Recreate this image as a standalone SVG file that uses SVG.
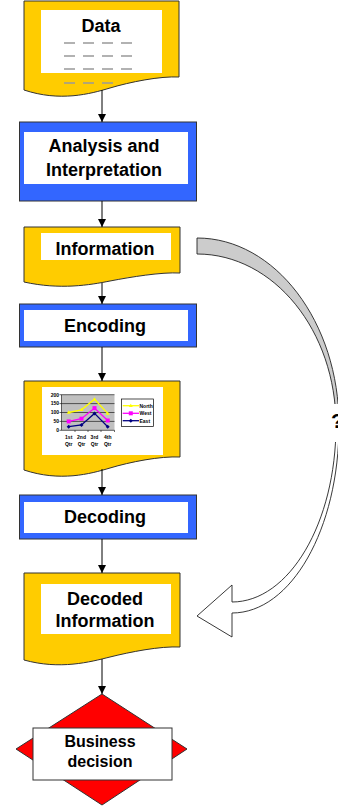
<svg xmlns="http://www.w3.org/2000/svg" width="338" height="807" viewBox="0 0 338 807">
<defs>
<style>
.doc{fill:#FFCC00;stroke:#333;stroke-width:1}
.proc{fill:#3366FF;stroke:#333;stroke-width:1}
.inner{fill:#fff;stroke:none}
.t{font-family:"Liberation Sans",Arial,sans-serif;font-weight:bold;font-size:18px;fill:#000;text-anchor:middle}
.ts{font-family:"Liberation Sans",Arial,sans-serif;font-weight:bold;font-size:5px;fill:#000}
.dash{stroke:#999;stroke-width:1.3;stroke-dasharray:11 8}
.conn{stroke:#000;stroke-width:1;fill:none}
.grid{stroke:#000;stroke-width:0.6}
</style>
<marker id="ah" viewBox="0 0 10 10" refX="10" refY="5" markerWidth="8" markerHeight="8" orient="auto" markerUnits="userSpaceOnUse"><path d="M0,0 L10,5 L0,10 Z" fill="#000"/></marker>
</defs>
<rect width="338" height="807" fill="#fff"/>

<g id="data">
<path class="doc" d="M24,1 H179 V77 C160,76 130,82 110,88 C90,94 60,102 24,90 Z"/>
<rect class="inner" x="41" y="10" width="121" height="63"/>
<text class="t" x="101" y="32">Data</text>
<line class="dash" x1="64" y1="43" x2="132" y2="43"/>
<line class="dash" x1="64" y1="56" x2="132" y2="56"/>
<line class="dash" x1="64" y1="69" x2="132" y2="69"/>
<line class="dash" x1="64" y1="83" x2="114" y2="83"/>
</g>

<g id="analysis">
<rect class="proc" x="19.5" y="122" width="177" height="79"/>
<rect class="inner" x="24" y="132" width="164" height="52"/>
<text class="t" x="104" y="152">Analysis and</text>
<text class="t" x="104" y="176">Interpretation</text>
</g>

<g id="information">
<path class="doc" d="M24,227 H180 V273 C161,272 131,277 110,281 C90,285 60,290 24,282 Z"/>
<rect class="inner" x="41" y="233" width="130" height="27"/>
<text class="t" x="105" y="255">Information</text>
</g>

<g id="encoding">
<rect class="proc" x="19.5" y="304" width="177" height="43"/>
<rect class="inner" x="24" y="310" width="164" height="31"/>
<text class="t" x="105" y="332">Encoding</text>
</g>

<g id="chart">
<path class="doc" d="M24,381 H180 V457 C160,456 130,462 110,468 C90,474 60,482 24,470 Z"/>
<rect class="inner" x="42" y="387" width="121" height="68"/>
<rect x="61.5" y="394.7" width="53" height="35.6" fill="#C0C0C0"/>
<line class="grid" x1="61.5" y1="394.7" x2="114.5" y2="394.7"/>
<line class="grid" x1="61.5" y1="403.6" x2="114.5" y2="403.6"/>
<line class="grid" x1="61.5" y1="412.5" x2="114.5" y2="412.5"/>
<line class="grid" x1="61.5" y1="421.4" x2="114.5" y2="421.4"/>
<line class="grid" x1="61.5" y1="394.7" x2="61.5" y2="430.3"/>
<line class="grid" x1="61.5" y1="430.3" x2="114.5" y2="430.3"/>
<g class="grid">
<line x1="59.5" y1="394.7" x2="61.5" y2="394.7"/><line x1="59.5" y1="403.6" x2="61.5" y2="403.6"/><line x1="59.5" y1="412.5" x2="61.5" y2="412.5"/><line x1="59.5" y1="421.4" x2="61.5" y2="421.4"/><line x1="59.5" y1="430.3" x2="61.5" y2="430.3"/>
<line x1="75" y1="430.3" x2="75" y2="432"/><line x1="88" y1="430.3" x2="88" y2="432"/><line x1="101" y1="430.3" x2="101" y2="432"/><line x1="114.5" y1="430.3" x2="114.5" y2="432"/>
</g>
<g class="ts" text-anchor="end">
<text x="59" y="396.5">200</text><text x="59" y="405.4">150</text><text x="59" y="414.3">100</text><text x="59" y="423.2">50</text><text x="59" y="432.1">0</text>
</g>
<g class="ts" text-anchor="middle">
<text x="68.7" y="439">1st</text><text x="68.7" y="446">Qtr</text>
<text x="81.5" y="439">2nd</text><text x="81.5" y="446">Qtr</text>
<text x="94.5" y="439">3rd</text><text x="94.5" y="446">Qtr</text>
<text x="107.7" y="439">4th</text><text x="107.7" y="446">Qtr</text>
</g>
<polyline points="68.7,412.5 81.5,409.8 94.5,399.2 107.7,413.4" fill="none" stroke="#FFFF00" stroke-width="1.3"/>
<g fill="#FFFF00"><path d="M68.7,410.5 l2,3.3 h-4z"/><path d="M81.5,407.8 l2,3.3 h-4z"/><path d="M94.5,397.2 l2,3.3 h-4z"/><path d="M107.7,411.4 l2,3.3 h-4z"/></g>
<polyline points="68.7,421.4 81.5,418.7 94.5,408.1 107.7,420.5" fill="none" stroke="#FF00FF" stroke-width="1.3"/>
<g fill="#FF00FF"><rect x="66.7" y="419.4" width="4" height="4"/><rect x="79.5" y="416.7" width="4" height="4"/><rect x="92.5" y="406.1" width="4" height="4"/><rect x="105.7" y="418.5" width="4" height="4"/></g>
<polyline points="68.7,426.7 81.5,425 94.5,413.4 107.7,426.7" fill="none" stroke="#000080" stroke-width="1.3"/>
<g fill="#000080"><path d="M68.7,424.7 l2,2 l-2,2 l-2,-2z"/><path d="M81.5,423 l2,2 l-2,2 l-2,-2z"/><path d="M94.5,411.4 l2,2 l-2,2 l-2,-2z"/><path d="M107.7,424.7 l2,2 l-2,2 l-2,-2z"/></g>
<rect x="121.5" y="399" width="32" height="27.5" fill="#fff" stroke="#000" stroke-width="0.7"/>
<line x1="122.7" y1="405.7" x2="139" y2="405.7" stroke="#FFFF00" stroke-width="1.3"/>
<path d="M130.8,403.7 l2,3.3 h-4z" fill="#FFFF00"/>
<line x1="122.7" y1="413.3" x2="139" y2="413.3" stroke="#FF00FF" stroke-width="1.3"/>
<rect x="128.8" y="411.3" width="4" height="4" fill="#FF00FF"/>
<line x1="122.7" y1="420.7" x2="139" y2="420.7" stroke="#000080" stroke-width="1.3"/>
<path d="M130.8,418.7 l2,2 l-2,2 l-2,-2z" fill="#000080"/>
<text class="ts" x="139.5" y="407.5">North</text>
<text class="ts" x="139.5" y="415.1">West</text>
<text class="ts" x="139.5" y="422.5">East</text>
</g>

<g id="decoding">
<rect class="proc" x="19.5" y="495" width="177" height="44"/>
<rect class="inner" x="24" y="502" width="164" height="31"/>
<text class="t" x="105" y="523">Decoding</text>
</g>

<g id="decoded">
<path class="doc" d="M24,573 H180 V647 C160,646 130,652 110,657 C90,662 60,670 24,660 Z"/>
<rect class="inner" x="41" y="584" width="130" height="50"/>
<text class="t" x="105" y="605">Decoded</text>
<text class="t" x="105" y="627">Information</text>
</g>

<g id="decision">
<path d="M102,694 L187,749 L102,805 L16,749 Z" fill="#FF0000" stroke="#333" stroke-width="1"/>
<rect x="33" y="728" width="139" height="52" fill="#fff" stroke="#333" stroke-width="1"/>
<text class="t" style="font-size:16px" x="100" y="747">Business</text>
<text class="t" style="font-size:16px" x="100" y="767">decision</text>
</g>

<g id="connectors">
<line class="conn" x1="102" y1="90" x2="102" y2="122" marker-end="url(#ah)"/>
<line class="conn" x1="102" y1="201" x2="102" y2="227" marker-end="url(#ah)"/>
<line class="conn" x1="102" y1="283" x2="102" y2="304" marker-end="url(#ah)"/>
<line class="conn" x1="102" y1="347" x2="102" y2="381" marker-end="url(#ah)"/>
<line class="conn" x1="102" y1="469" x2="102" y2="495" marker-end="url(#ah)"/>
<line class="conn" x1="102" y1="539" x2="102" y2="573" marker-end="url(#ah)"/>
<line class="conn" x1="102" y1="659" x2="102" y2="694" marker-end="url(#ah)"/>
</g>

<g id="feedback">
<path d="M197,238 C275,238 339,322 339,425 L336,425 C336,331 274,254 197,254 Z" fill="#CCCCCC" stroke="#222" stroke-width="0.9"/>
<path d="M339,425 C339,529 291,613 232,613 L232,637 L197,616 L232,585 L232,602 C289,602 336,523 336,425 Z" fill="#fff" stroke="#222" stroke-width="0.9"/>
<rect x="326" y="404" width="13" height="38" fill="#fff"/>
<text x="331" y="428" font-family="Liberation Sans, Arial, sans-serif" font-weight="bold" font-size="21" fill="#000">?</text>
</g>
</svg>
